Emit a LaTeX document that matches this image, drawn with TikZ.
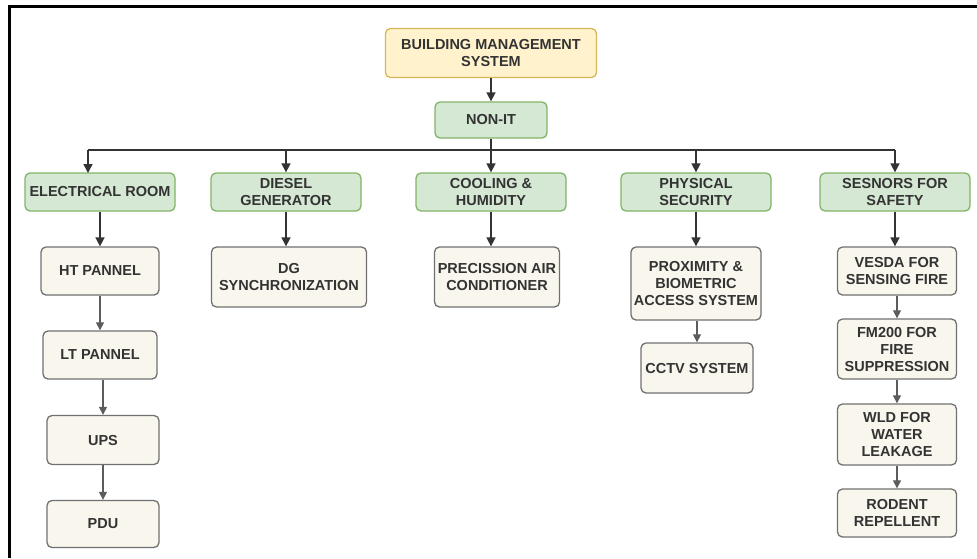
\documentclass[tikz,border=0pt]{standalone}
\usepackage{fontspec}
\setmainfont{Liberation Sans}
\usetikzlibrary{arrows.meta}

\definecolor{bmsfill}{HTML}{FFF2CC}
\definecolor{bmsline}{HTML}{D6B656}
\definecolor{grpfill}{HTML}{D5E8D4}
\definecolor{grpline}{HTML}{82B366}
\definecolor{itemfill}{HTML}{F9F7ED}
\definecolor{itemline}{HTML}{707070}
\definecolor{ink}{HTML}{333333}

\begin{document}
\begin{tikzpicture}[x=1pt, y=-1pt,
	box/.style={rounded corners=5pt, line width=1.3pt, inner sep=0pt, align=center,
		text=ink, font=\fontsize{14.5}{17}\selectfont\bfseries},
	top/.style={box, fill=bmsfill, draw=bmsline},
	grp/.style={box, fill=grpfill, draw=grpline, minimum width=150, minimum height=38},
	item/.style={box, fill=itemfill, draw=itemline, minimum width=119},
	link/.style={draw=ink, line width=1.6pt},
	arr/.style={link, -{Triangle[length=9pt,width=9pt]}},
	sub/.style={draw=ink!80, line width=1.2pt, -{Triangle[length=8pt,width=8pt]}}]
	
	% frame
	\useasboundingbox (0,0) rectangle (977,558);
	\draw[line width=2.5pt] (9.5,558) -- (9.5,6.3) -- (977,6.3);
	
	% top
	\node[top, minimum width=211, minimum height=49] (bms) at (491,53) {BUILDING MANAGEMENT\\SYSTEM};
	\node[grp, minimum width=112, minimum height=36] (nonit) at (491,120) {NON-IT};
	
	% groups
	\node[grp] (elec)   at (100,192) {ELECTRICAL ROOM};
	\node[grp] (diesel) at (286,192) {DIESEL\\GENERATOR};
	\node[grp] (cool)   at (491,192) {COOLING \&\\HUMIDITY};
	\node[grp] (phys)   at (696,192) {PHYSICAL\\SECURITY};
	\node[grp] (sens)   at (895,192) {SESNORS FOR\\SAFETY};
	
	% electrical room
	\node[item, minimum width=118, minimum height=48] (ht)  at (100,271) {HT PANNEL};
	\node[item, minimum width=114, minimum height=48] (lt)  at (100,355) {LT PANNEL};
	\node[item, minimum width=112, minimum height=49] (ups) at (103,440) {UPS};
	\node[item, minimum width=112, minimum height=47] (pdu) at (103,524) {PDU};
	
	% diesel, cooling
	\node[item, minimum width=155, minimum height=60] (dg)  at (289,277) {DG\\SYNCHRONIZATION};
	\node[item, minimum width=125, minimum height=60] (pac) at (497,277) {PRECISSION AIR\\CONDITIONER};
	
	% physical security
	\node[item, minimum width=130, minimum height=73] (prox) at (696,283.5) {PROXIMITY \&\\BIOMETRIC\\ACCESS SYSTEM};
	\node[item, minimum width=112, minimum height=50] (cctv) at (697,368) {CCTV SYSTEM};
	
	% sensors
	\node[item, minimum height=48] (vesda) at (897,271)   {VESDA FOR\\SENSING FIRE};
	\node[item, minimum height=60] (fm)    at (897,349)   {FM200 FOR\\FIRE\\SUPPRESSION};
	\node[item, minimum height=61] (wld)   at (897,434.5) {WLD FOR\\WATER\\LEAKAGE};
	\node[item, minimum height=48] (rod)   at (897,513)   {RODENT\\REPELLENT};
	
	% bus
	\coordinate (bus)    at (491,150);
	\coordinate (elecin) at (88,173);
	\draw[arr] (bms) -- (nonit);
	\draw[arr] (nonit) -- (cool);
	\draw[link] (bus -| elecin) -- (bus -| sens.north);
	\draw[arr] (bus -| elecin) -- (elecin);
	\foreach \g in {diesel, phys, sens}
		\draw[arr] (bus -| \g.north) -- (\g.north);
	
	% group to first item
	\foreach \a/\b in {elec/ht, diesel/dg, cool/pac, phys/prox, sens/vesda}
		\draw[arr] (\a.south) -- (\a.south |- \b.north);
	
	% item chains
	\foreach \a/\b in {ht/lt, lt/ups, ups/pdu, prox/cctv, vesda/fm, fm/wld, wld/rod}
		\draw[sub] (\b.north |- \a.south) -- (\b.north);
	
\end{tikzpicture}
\end{document}
